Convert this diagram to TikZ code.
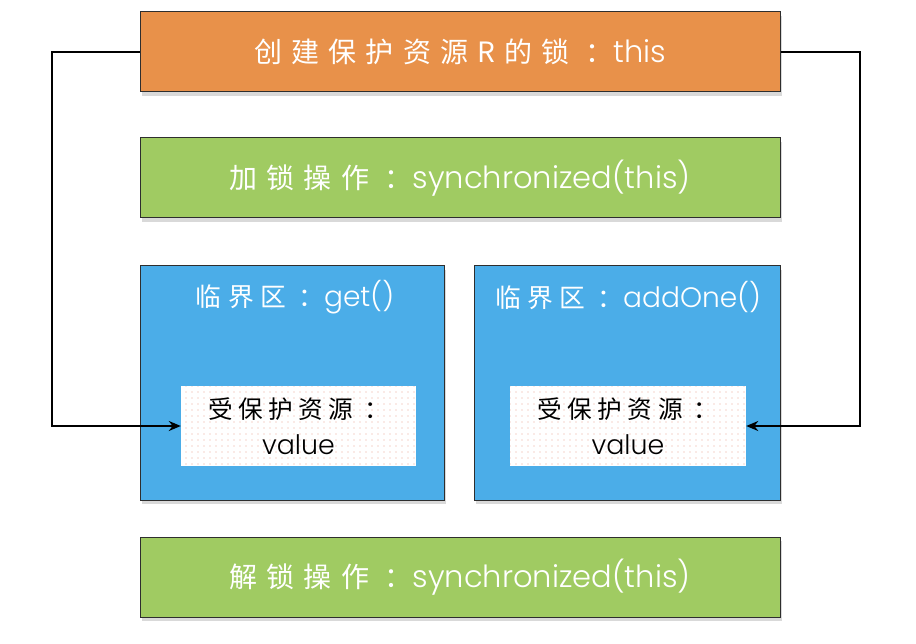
\documentclass[tikz,border=0pt]{standalone}
\usepackage{fontspec}
\setmainfont{Poppins}[Scale=1.22, UprightFont=* Light]
\newfontfamily\cjkA[Scale=1.12, LetterSpace=33]{Noto Sans CJK SC}
\newfontfamily\cjkB[Scale=1.12, LetterSpace=25]{Noto Sans CJK SC}
\newfontfamily\cjkC[Scale=1.12, LetterSpace=22]{Noto Sans CJK SC}
\usetikzlibrary{shadows,patterns.meta,arrows.meta}
\definecolor{boxorange}{HTML}{E8914A}
\definecolor{boxgreen}{HTML}{A0CB62}
\definecolor{boxblue}{HTML}{4BADE8}
\definecolor{boxline}{HTML}{2E2E2E}
\definecolor{dotpink}{HTML}{EDA896}
\tikzset{
  bx/.style={draw=boxline, line width=1pt, minimum width=640pt, minimum height=80pt,
    inner sep=0pt, text=white, font=\fontsize{25}{30}\selectfont,
    drop shadow={shadow xshift=2pt, shadow yshift=-4pt, opacity=0.3}},
  critbox/.style={draw=boxline, line width=1pt, fill=boxblue, minimum height=234pt,
    inner sep=0pt, drop shadow={shadow xshift=2pt, shadow yshift=-4pt, opacity=0.3}},
  crittitle/.style={text=white, font=\fontsize{23}{28}\selectfont, inner sep=0pt},
  resbox/.style={fill=white, minimum height=80pt, inner sep=0pt, align=center,
    font=\fontsize{22}{36}\selectfont, text=black,
    postaction={pattern={Dots[radius=0.6pt, distance=6pt]}, pattern color=dotpink}},
  conn/.style={draw=black, line width=2.2pt, -{Stealth[length=12pt, width=10pt]}}
}
\begin{document}
\begin{tikzpicture}[x=1pt, y=-1pt]
\useasboundingbox (0,0) rectangle (916,644);
\node[bx, fill=boxorange] (lockc) at (460,52) {{\cjkA 创建保护资源R的锁 ：}this};
\node[bx, fill=boxgreen] (lockop) at (460,178) {{\cjkA 加锁操作 ：}synchronized(this)};
\node[critbox, minimum width=304pt] (crit1) at (292,383) {};
\node[critbox, minimum width=306pt] (crit2) at (627,383) {};
\node[crittitle] (t1) at (295,297) {{\cjkB 临界区 ：}get()};
\node[crittitle] (t2) at (628,297) {{\cjkB 临界区 ：}addOne()};
\node[resbox, minimum width=235pt] (res1) at (298.5,426) {{\cjkC 受保护资源 ：}\\value};
\node[resbox, minimum width=236pt] (res2) at (628,426) {{\cjkC 受保护资源 ：}\\value};
\node[bx, fill=boxgreen] (unlock) at (460,577) {{\cjkA 解锁操作 ：}synchronized(this)};
\coordinate (lbend) at (52,52);
\coordinate (rbend) at (860,52);
\draw[conn] (lockc.west) -- (lbend) |- (res1.west);
\draw[conn] (lockc.east) -- (rbend) |- (res2.east);
\end{tikzpicture}
\end{document}
